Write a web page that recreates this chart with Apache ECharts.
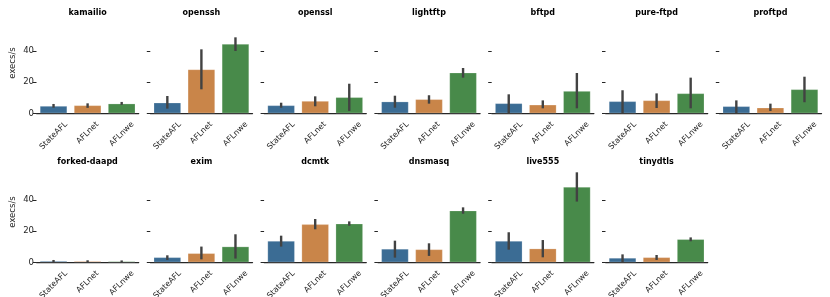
<!DOCTYPE html>
<html><head><meta charset="utf-8">
<script src="https://cdn.jsdelivr.net/npm/echarts@6/dist/echarts.min.js"></script>
<style>html,body{margin:0;padding:0;background:#fff}#c{width:830px;height:297px}</style>
</head><body><div id="c"></div>
<script>
// ---- data ----
const panels = ['kamailio','openssh','openssl','lightftp','bftpd','pure-ftpd','proftpd',
                'forked-daapd','exim','dcmtk','dnsmasq','live555','tinydtls'];
const fuzzers = ['StateAFL','AFLnet','AFLnwe'];
const stateaflMean = [4.7, 6.8, 5.1, 7.5, 6.4, 7.7, 4.5, 0.8, 3.2, 13.7, 8.6, 13.7, 2.8];
const stateaflLow  = [3.6, 3.0, 3.6, 3.6, 0.0, 0.0, 0.2, 0.2, 1.5, 10.1, 3.0, 8.1, 0.0];
const stateaflHigh = [6.0, 11.1, 6.8, 11.3, 12.2, 14.8, 8.3, 1.5, 4.5, 17.1, 13.9, 19.3, 5.1];
const aflnetMean   = [5.1, 28.2, 7.9, 9.0, 5.5, 8.3, 3.6, 0.7, 5.8, 24.4, 8.3, 8.8, 3.2];
const aflnetLow    = [3.5, 15.4, 4.5, 6.2, 3.2, 3.4, 1.5, 0.2, 1.9, 21.2, 4.1, 3.2, 1.5];
const aflnetHigh   = [6.4, 41.1, 10.9, 11.6, 8.3, 12.8, 6.2, 1.3, 10.1, 27.8, 12.2, 14.3, 4.7];
const aflnweMean   = [6.2, 44.5, 10.3, 26.1, 14.3, 12.8, 15.4, 0.6, 10.1, 24.8, 33.2, 48.4, 14.8];
const aflnweLow    = [5.4, 40.0, 1.5, 22.9, 3.2, 3.2, 7.1, 0.1, 2.4, 23.5, 31.2, 39.0, 13.5];
const aflnweHigh   = [7.3, 48.8, 19.0, 29.1, 25.9, 22.9, 23.5, 1.2, 18.0, 26.3, 35.3, 57.8, 16.0];
const yTicks = [0, 20, 40];
const yLabel = 'execs/s';

// ---- layout / style ----
const means = [stateaflMean, aflnetMean, aflnweMean];
const lows = [stateaflLow, aflnetLow, aflnweLow];
const highs = [stateaflHigh, aflnetHigh, aflnweHigh];
const COLORS = ['#3b6c94', '#c98549', '#488a4a'];
const FONT = 'DejaVu Sans';
const TXT = '#262626';
const COLS = 7, LEFT0 = 36.5, STEP = 113.8, W = 102.2, H = 94.5;
const TOPS = [18.8, 167.8];
const YMAX = 60.7;

const chart = echarts.init(document.getElementById('c'), null, {renderer: 'canvas'});
const grid = [], xAxis = [], yAxis = [], series = [], graphic = [];

panels.forEach((name, i) => {
  const c = i % COLS, r = Math.floor(i / COLS);
  const left = LEFT0 + STEP * c, top = TOPS[r];
  grid.push({left: left, top: top, width: W, height: H, containLabel: false, outerBoundsMode: 'none'});
  xAxis.push({
    gridIndex: i, type: 'category', data: fuzzers,
    axisLine: {lineStyle: {color: TXT, width: 1.25}},
    axisTick: {alignWithLabel: true, length: 3.5, lineStyle: {color: TXT, width: 1}},
    axisLabel: {
      interval: 0, rotate: 45, align: 'center', verticalAlign: 'middle', margin: 19.5,
      fontSize: 8, fontFamily: FONT, color: TXT,
      formatter: (v, idx) => '{r' + idx + '|' + v + '}',
      rich: {
        r0: {fontSize: 8, fontFamily: FONT, color: TXT, padding: [4, 4, 0, 0]},
        r1: {fontSize: 8, fontFamily: FONT, color: TXT},
        r2: {fontSize: 8, fontFamily: FONT, color: TXT, padding: [1.7, 1.7, 0, 0]}
      }
    },
    splitLine: {show: false}
  });
  yAxis.push({
    gridIndex: i, type: 'value', min: 0, max: YMAX,
    axisLine: {show: false}, splitLine: {show: false},
    axisTick: {show: true, length: 3.5, customValues: yTicks, lineStyle: {color: TXT, width: 1}},
    axisLabel: {show: c === 0, customValues: yTicks, fontSize: 8.5, margin: 2.5, color: TXT, fontFamily: FONT}
  });
  series.push({
    type: 'bar', xAxisIndex: i, yAxisIndex: i, barWidth: '80%', silent: true,
    data: fuzzers.map((f, k) => ({value: means[k][i],
      itemStyle: {color: COLORS[k], borderColor: 'rgba(255,255,255,0.35)', borderWidth: 0.6}}))
  });
  series.push({
    type: 'custom', xAxisIndex: i, yAxisIndex: i, silent: true, z: 10,
    data: fuzzers.map((f, k) => [k, lows[k][i], highs[k][i]]),
    encode: {x: 0, y: [1, 2]},
    renderItem: (params, api) => {
      const p1 = api.coord([api.value(0), api.value(1)]);
      const p2 = api.coord([api.value(0), api.value(2)]);
      return {type: 'line', shape: {x1: p1[0], y1: p1[1], x2: p2[0], y2: p2[1]},
              style: {stroke: '#424242', lineWidth: 2.4}};
    }
  });
  graphic.push({type: 'text', x: left + W / 2, y: top - 6.1, silent: true,
    style: {text: name, align: 'center', verticalAlign: 'middle',
            font: 'bold 8px "DejaVu Sans"', fill: '#000'}});
  if (c === 0) {
    graphic.push({type: 'text', x: 12.5, y: top + H / 2 - 3, rotation: Math.PI / 2, silent: true,
      style: {text: yLabel, align: 'center', verticalAlign: 'middle',
              font: '8.5px "DejaVu Sans"', fill: TXT}});
  }
});

chart.setOption({animation: false, grid, xAxis, yAxis, series, graphic});
</script></body></html>
